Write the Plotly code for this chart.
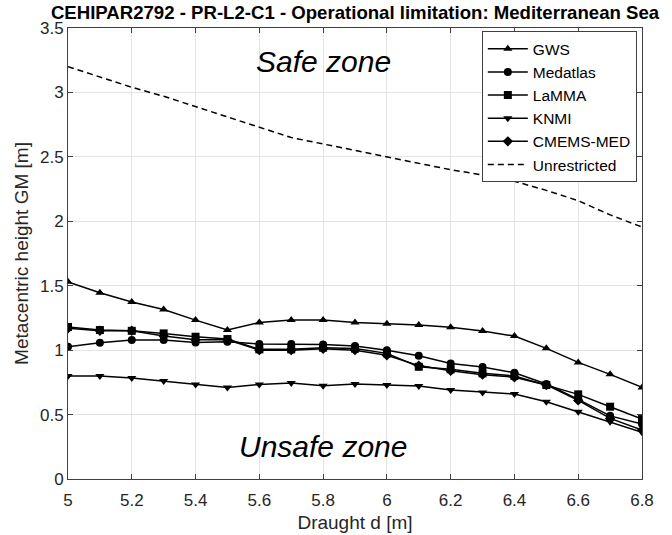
import plotly.graph_objects as go

draught = [5.0, 5.1, 5.2, 5.3, 5.4, 5.5, 5.6, 5.7, 5.8, 5.9, 6.0, 6.1, 6.2, 6.3, 6.4, 6.5, 6.6, 6.7, 6.8]

gws = [1.53, 1.445, 1.373, 1.316, 1.233, 1.156, 1.215, 1.233, 1.233, 1.214, 1.205, 1.195, 1.177, 1.148, 1.109, 1.014, 0.905, 0.812, 0.711]
medatlas = [1.027, 1.058, 1.078, 1.078, 1.06, 1.065, 1.047, 1.047, 1.044, 1.032, 1.0, 0.957, 0.897, 0.869, 0.825, 0.737, 0.618, 0.49, 0.427]
lamma = [1.18, 1.156, 1.15, 1.13, 1.104, 1.086, 1.006, 1.006, 1.019, 1.012, 0.975, 0.871, 0.851, 0.82, 0.80, 0.729, 0.657, 0.561, 0.465]
knmi = [0.80, 0.80, 0.784, 0.760, 0.734, 0.711, 0.734, 0.745, 0.724, 0.737, 0.729, 0.721, 0.690, 0.672, 0.659, 0.600, 0.522, 0.445, 0.362]
cmems = [1.17, 1.15, 1.15, 1.11, 1.08, 1.08, 1.0, 1.0, 1.01, 1.0, 0.96, 0.88, 0.84, 0.81, 0.79, 0.73, 0.61, 0.47, 0.38]
unrestricted = [3.2, 3.12, 3.04, 2.97, 2.89, 2.81, 2.73, 2.65, 2.6, 2.55, 2.5, 2.45, 2.4, 2.36, 2.31, 2.24, 2.16, 2.05, 1.955]

series = [
    ("GWS", gws, "triangle-up"),
    ("Medatlas", medatlas, "circle"),
    ("LaMMA", lamma, "square"),
    ("KNMI", knmi, "triangle-down"),
    ("CMEMS-MED", cmems, "diamond"),
]

x_ticks = [5, 5.2, 5.4, 5.6, 5.8, 6, 6.2, 6.4, 6.6, 6.8]
y_ticks = [0, 0.5, 1, 1.5, 2, 2.5, 3, 3.5]

FONT = "Liberation Sans, Arial, sans-serif"

fig = go.Figure()
for name, vals, sym in series:
    fig.add_trace(go.Scatter(
        x=draught, y=vals, name=name, mode="lines+markers",
        line=dict(color="black", width=1.5),
        marker=dict(symbol=sym, size=8, color="black"),
    ))
fig.add_trace(go.Scatter(
    x=draught, y=unrestricted, name="Unrestricted", mode="lines",
    line=dict(color="black", width=1.5, dash="6px,4px"),
))

axis_common = dict(
    showline=True, linecolor="#404040", linewidth=1, mirror="ticks",
    ticks="inside", ticklen=5, tickcolor="#404040",
    showgrid=True, gridcolor="#e3e3e3", gridwidth=1, zeroline=False,
    tickfont=dict(family=FONT, size=17, color="#262626"),
    automargin=False,
)

fig.update_xaxes(range=[5, 6.8], tickvals=x_ticks, ticktext=[f"{v:g}" for v in x_ticks],
                 title=dict(text="Draught d [m]", font=dict(family=FONT, size=19, color="#262626"), standoff=6),
                 ticklabelstandoff=6, **axis_common)
fig.update_yaxes(range=[0, 3.5], tickvals=y_ticks, ticktext=[f"{v:g}" for v in y_ticks],
                 title=dict(text="Metacentric height GM [m]", font=dict(family=FONT, size=19, color="#262626"), standoff=6),
                 **axis_common)

fig.add_annotation(x=5.8, y=3.24, text="Safe zone", showarrow=False,
                   font=dict(family=FONT, size=30, color="black", style="italic"))
fig.add_annotation(x=5.8, y=0.25, text="Unsafe zone", showarrow=False,
                   font=dict(family=FONT, size=30, color="black", style="italic"))

fig.update_layout(
    width=672, height=535,
    margin=dict(l=68, r=30, t=28, b=56),
    plot_bgcolor="white", paper_bgcolor="white",
    title=dict(text="<b>CEHIPAR2792 - PR-L2-C1 - Operational limitation: Mediterranean Sea</b>",
               x=0.5, xref="paper", y=1 - 12 / 535, yanchor="middle", yref="container",
               font=dict(family=FONT, size=18.6, color="black")),
    legend=dict(x=0.991, y=0.993, xanchor="right", yanchor="top",
                bgcolor="white", bordercolor="#404040", borderwidth=1,
                font=dict(family=FONT, size=15.5, color="black"),
                tracegroupgap=0, itemwidth=40),
    showlegend=True,
)

fig.write_html("out.html")
